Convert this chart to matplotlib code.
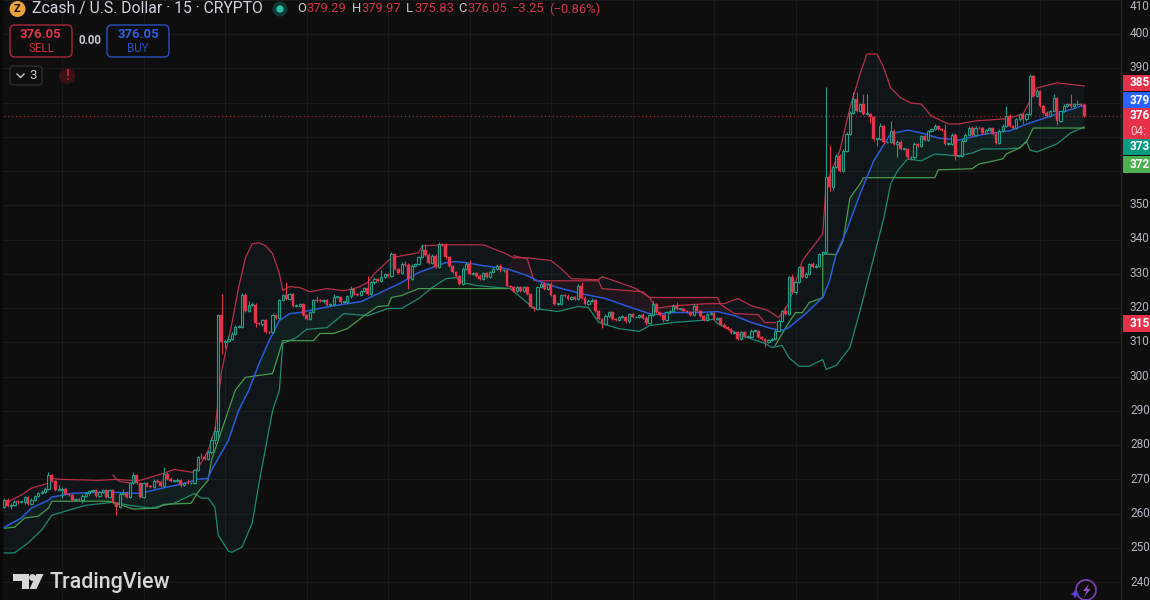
import numpy as np
import matplotlib
matplotlib.use("Agg")
import matplotlib.pyplot as plt
from matplotlib.patches import Rectangle, FancyBboxPatch, Circle, Polygon

# ---------- candle data (15-minute bars) ----------
closes = [
 264,262.3,262.5,263.5,263.3,263.3,264.7,262.9,264.1,265.1,265.9,266.3,267.3,271.2,269.6,266.8,267,267.3,265.7,265.3,264.1,264.3,264.1,265.1,
 265.9,266.6,266.8,265.2,266.3,266.8,264.9,267,263.1,262,265.7,266.1,264.9,268.8,271.4,268.8,264.9,268.8,268,267.9,269.6,269.3,268.1,271.7,
 270.2,269.6,269.6,269.9,268.3,269,268.8,269,272.7,276.5,276.4,276,278,281.4,284,318,310,310.5,311,312.5,314.6,314.6,323.9,319.3,
 321,321,315.6,315.4,316.5,313,312.9,318.1,317.2,322.4,323.7,322.7,324,320.7,320.7,321.2,318.1,316.9,318.8,322.4,322.2,322,322.3,321,
 321.1,323.2,323.2,321.7,321.8,323.4,325.6,324.1,323.7,325.1,325.8,324.1,327.5,328.5,328,329.2,330,329.5,335.8,331.4,330.2,332.9,332.7,328.5,
 332.4,332.9,334.8,337,335.6,333.1,335.3,331.9,338.7,338.5,334.8,332.4,330.5,329.5,327.1,331.4,332.9,330,330.3,329.5,328.5,330.3,329,330.5,
 331.4,332.4,331,331,326.6,326.1,325.1,326.1,325.1,326.1,324.2,320.3,319.8,326.1,327.1,325.6,327.1,323.7,321.2,321.2,323.7,323.6,322.7,323.2,
 322.7,326.6,323,321.2,322.2,322.4,319.3,316.9,315.4,317.8,318.8,316.9,316.4,317.5,317.5,316.1,318.3,317.3,317.5,318.1,317.2,315.6,318.1,321.2,
 318.8,318.1,316.6,318.8,319.3,320.7,319.7,319.7,319.1,318.8,318.1,320.7,319.1,317.8,316.5,318.3,318.6,316.8,317.1,315.2,314.4,313.9,312.6,312.9,
 311,312.9,311.7,311.7,313.4,313.4,311.7,311,310,310.7,311,313.4,316.3,319.1,318.3,329,324.6,327.5,331.9,329,330,332.9,332,332.4,
 335.8,336.3,358.2,355.3,361.1,364.5,360.1,366,370.8,377,381,377.6,379.5,376.6,376.6,375.7,369.3,369.3,373.2,368.4,368.4,371.8,368,368.5,
 366.4,366.4,364,364,367.9,367.4,370.2,369,371.7,372.2,373.2,372.2,371.9,368,368,370.7,364.4,364.4,368.8,370.7,372.7,370.7,372.7,372.5,
 371.2,371.9,372.5,371,368.3,371.7,373.2,376.1,373.2,372.5,375.1,376.6,375.1,376.6,387.7,381.9,383.4,379,377.1,376.1,377.5,381.4,374.8,377.5,
 379,379.5,378.9,379.5,379.5,379.29,376.05]
first_open = 262.0
wick_up = [
 .6,.5,.5,.4,.4,.4,.5,.4,.4,.4,.5,.6,.5,.8,.4,.3,1.2,.4,.4,.3,.4,.3,.3,.5,
 .4,.4,.4,.3,.4,.5,.4,.3,.3,.2,.5,1.2,.4,.5,.7,.3,.4,.3,.4,.3,.4,.4,.4,1.9,
 .3,.4,.3,.5,.3,.3,1,.3,.4,.4,1.2,1,.5,1,1.5,.4,6,.3,1,.5,.5,.5,.4,.4,
 1,.8,.5,.4,.4,.4,.3,.4,.3,.4,.4,4,.5,.5,.4,.3,.4,.3,.3,.3,1.2,.4,.4,.4,
 .4,.8,.3,.4,.4,.5,.8,.4,.4,.3,.3,3.5,.4,.5,.4,2,.4,.4,.5,.4,.3,.5,1,.4,
 .4,.4,.5,1.7,1.6,.4,.4,.4,.5,.3,.4,.3,.3,.3,.3,.5,.5,1.3,.3,.3,.4,.3,.4,.4,
 .6,.5,.4,.4,.4,.3,.4,.3,.4,.3,.4,.3,.3,.5,.4,.5,.3,.4,.3,.3,.4,.3,.4,.3,
 .3,.5,1,.4,.6,.5,.4,.3,.3,.4,.3,.4,.3,.3,.4,.3,.3,.3,.3,.3,.4,.4,.5,1,
 .4,.3,.3,.3,.3,.4,1,.4,.3,.3,.3,.4,.4,.3,.3,.4,.3,.3,.3,.3,.4,.3,.3,.4,
 .4,.4,.4,.4,.4,.3,.3,.3,.3,.3,.3,.4,.5,.5,1.5,.4,1,.5,.4,.4,.5,.4,.5,.4,
 .4,.5,26.4,9.5,.5,.4,.5,.5,.6,.5,2,2.2,.5,3,6,.5,.4,.4,1,.4,.5,2.8,.4,.5,
 .5,.4,.4,.4,.5,.4,.5,.4,.4,.5,.5,.4,.4,1.8,.4,.5,.5,.4,.6,.5,.6,.4,.5,.4,
 .4,.3,.5,.4,.4,.5,.5,3,.5,.4,.4,.4,.4,.4,.8,.5,.5,.4,.4,.4,.5,1,.4,.5,
 .5,.5,3,.5,1.2,.5,.68]
wick_down = [
 .5,.4,1,.3,.4,.3,.4,.4,.3,.3,.3,.3,.3,.4,.3,.3,.3,2.5,.4,.3,.3,.3,.3,1,
 .3,.4,.3,.3,.3,.3,.3,.3,.4,2.4,.3,.3,.3,.3,.3,.3,.4,.3,.3,.3,.3,.3,.4,.3,
 .3,.3,.3,.3,.4,.3,.3,.3,.3,.4,.4,.4,.4,.5,1,2,3.5,1.5,.5,.4,.4,.4,.5,.5,
 .4,.4,1,.4,.6,.4,.4,.4,.3,.3,.3,.3,.3,.4,.4,.3,.5,.4,.3,.3,.3,.3,.4,.3,
 .5,.5,.3,.4,.3,.3,.3,.4,.3,.3,.3,.3,.3,.4,.3,.3,.4,.4,.3,.3,.3,.3,.3,2.8,
 .3,.3,.3,.3,.3,.3,.3,.3,.3,.3,.4,.3,.3,.3,.4,.3,.3,.3,.3,.3,.3,.3,.3,.3,
 .3,.3,.3,.3,.3,.3,.3,.3,.3,.3,.3,.4,.7,.3,.3,.3,.3,.3,.3,.3,.3,.3,.3,.3,
 .3,.3,.3,.3,.3,.3,.3,.3,1.2,.3,.3,.3,.3,.3,.3,.3,.3,.3,.3,.3,.3,.6,.3,.3,
 .3,.3,.6,.3,.3,.3,.3,.3,.3,.3,.3,.3,.3,.3,.3,.3,.3,.3,.3,.3,.3,.3,.3,.3,
 .3,.3,.3,.3,.3,.3,.3,.3,1.3,.3,.3,.3,.3,.3,.3,.3,.5,.4,.3,.3,.3,.3,.3,.3,
 .3,.3,.4,1,.8,.3,.4,.3,.3,.3,.4,.3,.3,.3,.3,1.5,.4,2,.3,.4,.3,.3,.4,4,
 .3,.3,.3,.6,.3,.3,.3,.3,.3,.3,.3,.3,.3,.4,.3,.3,1,.4,.3,.3,.3,.3,.3,.3,
 .3,.3,.3,.3,.4,.3,.3,.3,.3,.3,.3,.3,1.4,.3,.3,.3,.3,.3,.3,.3,.3,.3,1.2,.3,
 .3,.3,.3,.3,.3,.3,.22]

# ---------- indicator series: bar index, price ----------
upper_i = [0,2,5,8,13,14,16,28,33,37,40,43,47,50,55,56,57,59,60,61,62,64,67,69,71,73,75,77,79,81,82,84,87,90,95,100,104,107,109,114,117,122,123,130,141,147,150,154,161,164,167,175,176,181,186,190,192,197,207,212,216,220,225,228,231,235,241,242,246,249,252,254,257,259,261,264,267,270,273,278,281,286,295,300,304,310,318]
upper_p = [262.4,263.9,265.4,267.4,268.9,270.3,270,269.7,270,269.7,269.7,270.6,271.8,272.9,272.1,272.1,273.5,276.4,278.5,281.4,284.3,301.8,315.5,326,334.7,338.8,339.1,338.2,335.9,330.1,325.1,326.3,326,324.8,325.7,325.1,326,327.5,330.1,334.7,335.3,336.2,338.2,338.5,338.5,336.2,334.7,334.7,333.9,331.5,328.6,328.3,329.2,327.5,325.7,323.1,319.9,320.7,321.3,321.3,322.8,320.7,319.3,317.2,321.3,333.9,341.7,356.3,365.9,378.5,388.4,394.2,394.2,390.1,384.3,381.4,379.9,379.6,376.1,373.8,373.8,374.7,375.3,376.7,384.3,385.8,384.9]

basis_i = [0,5,8,13,14,20,26,32,40,45,52,57,60,61,66,69,72,75,78,81,84,87,91,97,105,110,117,122,130,133,136,141,148,154,157,163,170,177,183,189,191,197,204,210,215,220,226,229,231,236,241,243,245,248,252,256,261,266,270,275,281,289,296,302,310,318]
basis_p = [256,258.7,261.6,263.9,264.8,265.9,266.2,266.2,265.9,267.1,268.6,270,270.3,272.6,281.4,290.1,296,303.8,310.5,316.4,318.4,318.7,319.6,320.7,321.9,324.2,327.5,330.4,333.3,333.6,333.3,332.4,331.5,329.5,328,326,324.2,322.8,320.7,318.7,318.1,318.7,318.7,319,317.8,315.8,314,313.5,314.3,318.4,323.1,328,335.9,342.6,353.4,363,370.9,372,371.2,369.7,369.1,370.9,371.8,374.1,376.7,379.3]

lower_i = [0,3,7,11,14,18,24,32,37,43,50,56,58,60,62,63,66,67,70,73,75,79,81,82,86,89,95,100,107,113,117,122,126,130,133,135,139,149,156,163,169,172,175,181,187,190,197,209,210,217,224,226,229,231,234,237,241,242,245,249,252,256,259,261,263,266,270,274,281,285,288,295,299,301,302,304,310,314,318]
lower_p = [248.5,248.5,251.4,255.2,259.5,260.7,262.4,263.3,262.4,261.6,263,265.9,264.5,264.5,261.9,253.7,249,248.7,250.2,257.2,268.9,290.1,296,309.7,311.4,313.8,314.3,318.4,317.8,319.9,319.9,322.8,326,328.6,328.9,327.5,326.6,325.7,319.9,319,320.5,320.2,315.8,314,313.2,314.9,315.8,316.7,315.5,312,309.7,308.5,309.1,305.6,303,303,305,302.1,303.3,308.5,319.3,334.7,346.4,356.3,360.1,363.6,363,365,364.5,365.3,366.5,366.5,366.8,368.8,366.2,365.6,368,371.2,372.9]

support_a_i = [0,3,6,10,13,14,31,38,45,47,55,57,60,61,63,68,71,79,82,91,93,97,101,106,110,113,114,117,122,128,148]
support_a_p = [255.7,256,258.7,259.2,261.6,263.6,263.6,261.3,261.6,262.7,263,266.2,269.7,275.6,281.4,296,299.8,300.9,310.5,310.5,312.6,312.6,314,317.8,320.5,320.7,323.1,323.7,325.7,325.7,325.7]
support_b_i = [227,231,233,235,237,241,241,245,247,249,252,253,274,275,285,287,290,294,295,299,301,303,311,318]
support_b_p = [309.1,315.8,318.7,318.7,321.6,323.1,335.9,335.6,339.7,352.2,356.3,358.1,358.1,360.4,360.7,362.1,362.7,363.6,365,366.8,368.6,372.6,372.6,372.6]

resist_a_i = [32,33,34,37,39]
resist_a_p = [271.2,270,269.4,268.9,269.2]
resist_b_i = [150,154,156,175,176,188,190,210,211,215,222,224,227]
resist_b_p = [335.3,334.4,328,328,325.7,324.8,323.1,323.1,321,318.4,318.1,315.8,315.8]

y_ticks = [240,250,260,270,280,290,300,310,320,330,340,350,360,370,380,390,400,410]
y_labels = [240,250,260,270,280,290,300,310,320,330,340,350,390,400,410]
grid_bars = [17,41,65,89,113,137,161,185,209,233,257,281,305]

BG = "#0e0e0e"; GRID = "#1a1a1a"; RED = "#e0354b"; TEAL = "#1f9e87"
W, H = 1150, 600
plt.rcParams["font.family"] = ["Roboto", "DejaVu Sans"]
fig = plt.figure(figsize=(W/100, H/100), dpi=100, facecolor=BG)

ax = fig.add_axes([0, 0, 1121/W, 1], facecolor=BG)
ax.set_xlim((0-4.3)/3.396, (1121-4.3)/3.396)
ax.set_ylim(240-18/3.43, 240+582/3.43)
ax.set_xticks(grid_bars); ax.set_yticks(y_ticks)
ax.grid(True, color=GRID, lw=0.8, zorder=0)
ax.set_axisbelow(True)
ax.tick_params(length=0, labelbottom=False, labelleft=False)
for s in ax.spines.values():
    s.set_visible(False)

def band(xa, ya, xb, yb, color, alpha):
    ax.fill(np.r_[xa, xb[::-1]], np.r_[ya, yb[::-1]], color=color, alpha=alpha, lw=0, zorder=1)

ui, up = np.array(upper_i), np.array(upper_p)
bi, bp = np.array(basis_i), np.array(basis_p)
li, lp = np.array(lower_i), np.array(lower_p)
sa_i, sa_p = np.array(support_a_i), np.array(support_a_p)
sb_i, sb_p = np.array(support_b_i), np.array(support_b_p)
rb_i, rb_p = np.array(resist_b_i), np.array(resist_b_p)

band(ui, up, li, lp, "#1f78b4", 0.07)
m = bi <= 148
band(bi[m], bp[m], sa_i, sa_p, "#2f9e5f", 0.08)
m = bi >= 229
band(bi[m], bp[m], sb_i, sb_p, "#2f9e5f", 0.08)
m = (bi >= 148) & (bi <= 229)
band(rb_i, rb_p, bi[m], bp[m], "#c0283c", 0.10)

ax.plot(ui, up, color="#b5304a", lw=0.9, zorder=2)
ax.plot(li, lp, color="#1f8a70", lw=0.9, zorder=2)
ax.plot(sa_i, sa_p, color="#4a9a4e", lw=0.9, zorder=2)
ax.plot(sb_i, sb_p, color="#4a9a4e", lw=0.9, zorder=2)
ax.plot(resist_a_i, resist_a_p, color="#b5304a", lw=0.9, zorder=2)
ax.plot(rb_i, rb_p, color="#b5304a", lw=0.9, zorder=2)
ax.plot(bi, bp, color="#2a5bd7", lw=1.1, zorder=3)

c = np.array(closes, float)
o = np.r_[first_open, c[:-1]]
hi = np.maximum(o, c) + np.array(wick_up)
lo = np.minimum(o, c) - np.array(wick_down)
idx = np.arange(len(c))
rising = c >= o
ax.vlines(idx[rising], lo[rising], hi[rising], color=TEAL, lw=0.8, zorder=4)
ax.vlines(idx[~rising], lo[~rising], hi[~rising], color=RED, lw=0.8, zorder=4)
h = np.maximum(np.abs(c-o), 0.25)
ax.bar(idx[rising], h[rising], bottom=np.minimum(o,c)[rising], width=0.66,
       facecolor="#0d1a18", edgecolor=TEAL, lw=0.8, zorder=5)
ax.bar(idx[~rising], h[~rising], bottom=np.minimum(o,c)[~rising], width=0.82,
       facecolor=RED, edgecolor=RED, lw=0.3, zorder=5)
ax.axhline(closes[-1], color="#a8303f", lw=0.8, ls=(0, (1, 2.5)), zorder=3)

# ---------- pixel overlay for the terminal furniture ----------
ov = fig.add_axes([0, 0, 1, 1], facecolor="none")
ov.set_xlim(0, W); ov.set_ylim(H, 0); ov.axis("off")
ov.add_patch(Rectangle((0, 0), 3, H, fc="#080808", lw=0))
ov.plot([1121, 1121], [0, H], color="#262626", lw=1)

AX = "#b2b5be"
for t in y_labels:
    y = 582 - (t-240)*3.43
    ov.text(1130, max(y, 6), str(t), color=AX, fontsize=8.5, va="center", ha="left")

def tag(y0, y1, color, lines):
    ov.add_patch(Rectangle((1123, y0), 27, y1-y0, fc=color, lw=0, zorder=6))
    n = len(lines)
    for k, s in enumerate(lines):
        ov.text(1130, y0 + (y1-y0)*(k+0.5)/n, s, color="white" if k == 0 else "#f5c6cc",
                fontsize=8.5, va="center", ha="left", zorder=7, fontweight="bold" if k == 0 else "normal")
tag(75, 91, "#e5304a", ["385"])
tag(92, 108, "#2962ff", ["379"])
tag(108, 139, "#e5304a", ["376", "04:"])
tag(139, 155, "#089981", ["373"])
tag(156, 173, "#4caf50", ["372"])
tag(315, 332, "#e5304a", ["315"])

# header
ov.add_patch(Circle((17.5, 9), 8, fc="#e8a33d", lw=0))
ov.text(17.5, 9, "Z", color="#1a1205", fontsize=8, fontweight="bold", ha="center", va="center")
ov.text(32, 9, "Zcash / U.S. Dollar · 15 · CRYPTO", color="#d1d4dc", fontsize=11.3, va="center")
ov.add_patch(Circle((280, 9), 7.5, fc="#0f3a36", lw=0))
ov.add_patch(Circle((280, 9), 3.6, fc="#2fbfa5", lw=0))
LBL = "#c8cad0"; VAL = "#d0354a"
for x, s, col in [(297, "O", LBL), (306, "379.29", VAL), (352, "H", LBL), (361, "379.97", VAL),
                  (406, "L", LBL), (414, "375.83", VAL), (458, "C", LBL), (467, "376.05", VAL),
                  (512, "\u22123.25", VAL), (549, "(\u22120.86%)", VAL)]:
    ov.text(x, 9, s, color=col, fontsize=9.4, va="center")

ov.add_patch(FancyBboxPatch((10, 25), 62, 32, boxstyle="round,pad=0,rounding_size=5", fc=BG, ec="#a8283c", lw=1))
ov.text(41, 34, "376.05", color="#e0354b", fontsize=9.5, ha="center", va="center", fontweight="bold")
ov.text(41, 48, "SELL", color="#c8323f", fontsize=8.3, ha="center", va="center")
ov.text(89.5, 41, "0.00", color="#c8cad0", fontsize=8.3, ha="center", va="center", fontweight="bold")
ov.add_patch(FancyBboxPatch((107, 25), 62, 32, boxstyle="round,pad=0,rounding_size=5", fc=BG, ec="#2a4fc0", lw=1))
ov.text(138, 34, "376.05", color="#2f5fe0", fontsize=9.5, ha="center", va="center", fontweight="bold")
ov.text(138, 48, "BUY", color="#2a4fc0", fontsize=8.3, ha="center", va="center")
ov.add_patch(FancyBboxPatch((10, 66), 32, 19, boxstyle="round,pad=0,rounding_size=3", fc=BG, ec="#2e2e2e", lw=1))
ov.plot([17, 20.5, 24], [74, 77.5, 74], color="#c8cad0", lw=1)
ov.text(33, 75.5, "3", color="#c8cad0", fontsize=9.5, ha="center", va="center")
ov.add_patch(Circle((67, 76), 8, fc="#3a1216", lw=0))
ov.text(67, 75.5, "!", color="#b3262f", fontsize=10, fontweight="bold", ha="center", va="center")

# TradingView mark
LOGO = "#d6d6d6"
ov.add_patch(Polygon([(13, 574), (29, 574), (29, 589), (21.5, 589), (21.5, 581), (13, 581)], fc=LOGO, lw=0))
ov.add_patch(Circle((32.5, 577.5), 3.4, fc=LOGO, lw=0))
ov.add_patch(Polygon([(36.5, 574), (43.5, 574), (36.5, 589), (29.5, 589)], fc=LOGO, lw=0))
ov.text(50, 582.5, "TradingView", color=LOGO, fontsize=15.5, fontweight="medium", va="center")

# assistant badge
ov.add_patch(Circle((1086, 590), 10, fc=BG, ec="#7a3fa8", lw=1.3))
ov.add_patch(Polygon([(1089, 584), (1083, 591), (1086.5, 591), (1084, 597), (1090.5, 589), (1087, 589)], fc="#9a4fc0", lw=0))
ov.add_patch(Polygon([(1075, 589.5), (1076.5, 592.5), (1079.5, 594), (1076.5, 595.5), (1075, 598.5), (1073.5, 595.5), (1070.5, 594), (1073.5, 592.5)], fc="#5b3fe0", lw=0))

fig.savefig("out.png", dpi=100, facecolor=BG)
